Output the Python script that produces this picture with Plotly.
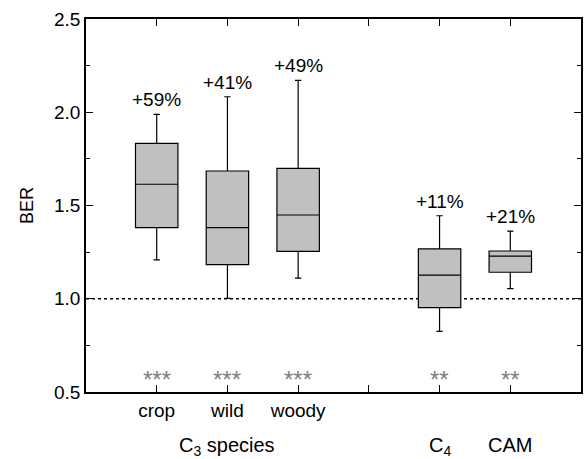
import plotly.graph_objects as go

categories = ["crop", "wild", "woody", "C4", "CAM"]
positions = [1, 2, 3, 5, 6]
lower = [1.208, 1.002, 1.111, 0.825, 1.054]
q1 = [1.381, 1.183, 1.254, 0.952, 1.142]
median = [1.614, 1.381, 1.449, 1.127, 1.229]
q3 = [1.833, 1.685, 1.699, 1.267, 1.256]
upper = [1.989, 2.083, 2.171, 1.445, 1.363]
pct_labels = ["+59%", "+41%", "+49%", "+11%", "+21%"]
stars = ["***", "***", "***", "**", "**"]
ytickvals = [0.5, 1.0, 1.5, 2.0, 2.5]
ref_value = 1.0

FONT = "Liberation Sans, Arial, sans-serif"

fig = go.Figure()
fig.add_trace(go.Box(
    x=positions, q1=q1, median=median, q3=q3,
    lowerfence=lower, upperfence=upper,
    fillcolor="#c0c0c0", line=dict(color="black", width=1.2),
    width=0.6, whiskerwidth=0.15, boxpoints=False, hoverinfo="skip",
    showlegend=False,
))

fig.add_shape(type="line", xref="paper", x0=0, x1=1, yref="y", y0=ref_value, y1=ref_value,
              line=dict(color="black", width=1.6, dash="dot"), layer="below")

ann = []
for p, u, t in zip(positions, upper, pct_labels):
    ann.append(dict(x=p, y=u, text=t, showarrow=False, yanchor="bottom", yshift=2,
                    font=dict(size=19, color="black", family=FONT)))
for p, s in zip(positions, stars):
    ann.append(dict(x=p, y=0.5, text=s, showarrow=False, yanchor="middle", yshift=13,
                    font=dict(size=24, color="#808080", family=FONT)))
for x, t in [(2, "C<sub>3</sub> species"), (5, "C<sub>4</sub>"), (6, "CAM")]:
    ann.append(dict(x=x, y=0, yref="paper", text=t, showarrow=False,
                    yanchor="top", yshift=-40, font=dict(size=20, color="black", family=FONT)))

fig.update_layout(
    width=584, height=459,
    margin=dict(l=86, r=1, t=19, b=67),
    plot_bgcolor="white", paper_bgcolor="white",
    font=dict(family=FONT, size=19, color="black"),
    annotations=ann,
    xaxis=dict(range=[0, 7], tickvals=[1, 2, 3, 4, 5, 6],
               ticktext=["crop", "wild", "woody", "", "", ""],
               ticks="inside", ticklen=7, tickwidth=1.2, tickcolor="black",
               showline=True, linecolor="black", linewidth=1.5, mirror="ticks",
               showgrid=False, zeroline=False, tickfont=dict(size=19)),
    yaxis=dict(range=[0.5, 2.5], tickvals=ytickvals, tickformat=".1f",
               ticks="inside", ticklen=7, tickwidth=1.2, tickcolor="black",
               minor=dict(tickvals=[0.75, 1.25, 1.75, 2.25], ticks="inside", ticklen=4,
                          tickcolor="black", tickwidth=1),
               showline=True, linecolor="black", linewidth=1.5, mirror="ticks",
               showgrid=False, zeroline=False, tickfont=dict(size=19),
               title=dict(text="BER", font=dict(size=18), standoff=16)),
)

fig.write_html("out.html")
